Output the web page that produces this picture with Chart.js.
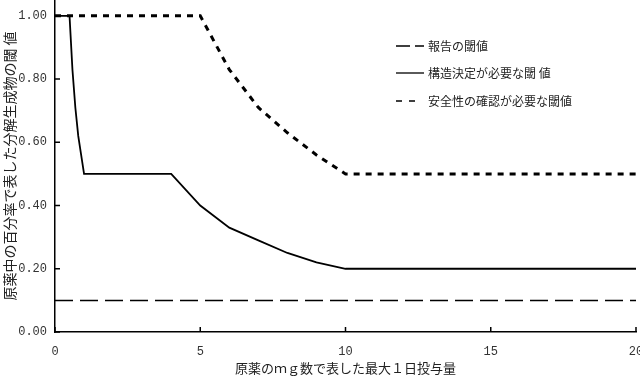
<!DOCTYPE html>
<html>
<head>
<meta charset="utf-8">
<script src="https://cdn.jsdelivr.net/npm/chart.js@4.4.1/dist/chart.umd.min.js"></script>
<style>
  html, body { margin: 0; padding: 0; background: #fff; overflow: hidden; }
  #wrap { position: relative; width: 640px; height: 380px; }
</style>
</head>
<body>
<div id="wrap"><canvas id="c"></canvas></div>
<script>
// ── Data ──────────────────────────────────────────────────────────────
const xTicks = [0, 5, 10, 15, 20];
const yTicks = [0, 0.2, 0.4, 0.6, 0.8, 1.0];

const reportX = [0, 20];
const reportY = [0.1, 0.1];

const identX = [0, 0.5, 0.6, 0.7, 0.8, 0.9, 1, 4, 5, 6, 7, 8, 9, 10, 20];
const identY = [1.0, 1.0, 0.83, 0.71, 0.62, 0.56, 0.5, 0.5, 0.4, 0.33, 0.29, 0.25, 0.22, 0.2, 0.2];

const qualX = [0, 5, 6, 7, 8, 9, 10, 20];
const qualY = [1.0, 1.0, 0.83, 0.71, 0.63, 0.56, 0.5, 0.5];

const labels = ["報告の閾値", "構造決定が必要な閾 値", "安全性の確認が必要な閾値"];
const dashes = [[18, 7], [], [6, 6]];
const widths = [1.5, 1.8, 3];

const pts = (xs, ys) => xs.map((x, i) => ({ x, y: ys[i] }));

// inward tick marks, like the original
const innerTicks = {
  id: "innerTicks",
  afterDraw(chart) {
    const { ctx, scales: { x, y }, chartArea } = chart;
    ctx.save();
    ctx.strokeStyle = "#000";
    ctx.lineWidth = 1.5;
    ctx.beginPath();
    xTicks.forEach((v) => {
      const px = x.getPixelForValue(v);
      ctx.moveTo(px, chartArea.bottom);
      ctx.lineTo(px, chartArea.bottom - 5);
    });
    yTicks.forEach((v) => {
      const py = y.getPixelForValue(v);
      ctx.moveTo(chartArea.left, py);
      ctx.lineTo(chartArea.left + 5, py);
    });
    ctx.stroke();
    ctx.restore();
  },
};

// legend drawn inside the plot, top right
const sideLegend = {
  id: "sideLegend",
  afterDraw(chart) {
    const ctx = chart.ctx;
    const x0 = 396, rows = [46, 73, 101];
    ctx.save();
    ctx.font = "12px 'Noto Sans CJK JP'";
    ctx.textBaseline = "middle";
    ctx.fillStyle = "#222";
    labels.forEach((t, i) => {
      ctx.strokeStyle = "#000";
      ctx.lineWidth = 1.3;
      ctx.setLineDash(i === 0 ? [14, 5] : i === 2 ? [6, 7] : []);
      ctx.beginPath();
      ctx.moveTo(x0, rows[i]);
      ctx.lineTo(i === 2 ? x0 + 22 : x0 + 28, rows[i]);
      ctx.stroke();
      ctx.fillText(t, x0 + 32, rows[i]);
    });
    ctx.restore();
  },
};

Chart.defaults.font.family = "'Noto Sans CJK JP'";
Chart.defaults.color = "#222";

new Chart(document.getElementById("c"), {
  type: "line",
  data: {
    datasets: [
      { label: labels[0], data: pts(reportX, reportY) },
      { label: labels[1], data: pts(identX, identY) },
      { label: labels[2], data: pts(qualX, qualY) },
    ].map((d, i) => ({
      ...d,
      borderColor: "#000",
      borderWidth: widths[i],
      borderDash: dashes[i],
      pointRadius: 0,
      fill: false,
      tension: 0,
    })),
  },
  plugins: [innerTicks, sideLegend],
  options: {
    responsive: true,
    maintainAspectRatio: false,
    animation: false,
    layout: { padding: { left: 0, top: 0, bottom: 0, right: 4 } },
    plugins: { legend: { display: false }, tooltip: { enabled: false } },
    scales: {
      x: {
        type: "linear",
        min: 0,
        max: 20,
        afterBuildTicks: (s) => { s.ticks = xTicks.map((v) => ({ value: v })); },
        // fixed band under the plot; let the "20" run off the edge
        afterFit: (s) => {
          s.height = 48;
          s.paddingLeft = 0;
          s.paddingRight = 0;
        },
        ticks: {
          font: { family: "'Liberation Mono'", size: 12 },
          color: "#333",
          padding: 13,
          maxRotation: 0,
        },
        grid: { display: false, drawTicks: false },
        border: { color: "#000", width: 1.5 },
        title: {
          display: true,
          text: "原薬のｍｇ数で表した最大１日投与量",
          font: { size: 13 },
          padding: { top: 3, bottom: 4 },
        },
      },
      y: {
        min: 0,
        max: 1.05,
        afterBuildTicks: (s) => { s.ticks = yTicks.map((v) => ({ value: v })); },
        afterFit: (s) => {
          s.width = 55;
          s.paddingTop = 0;
          s.paddingBottom = 0;
        },
        ticks: {
          font: { family: "'Liberation Mono'", size: 12 },
          color: "#333",
          padding: 8,
          callback: (v) => v.toFixed(2),
        },
        grid: { display: false, drawTicks: false },
        border: { color: "#000", width: 1.5 },
        title: {
          display: true,
          text: "原薬中の百分率で表した分解生成物の閾 値",
          font: { size: 14 },
          padding: { top: 1, bottom: 4 },
        },
      },
    },
  },
});
</script>
</body>
</html>
